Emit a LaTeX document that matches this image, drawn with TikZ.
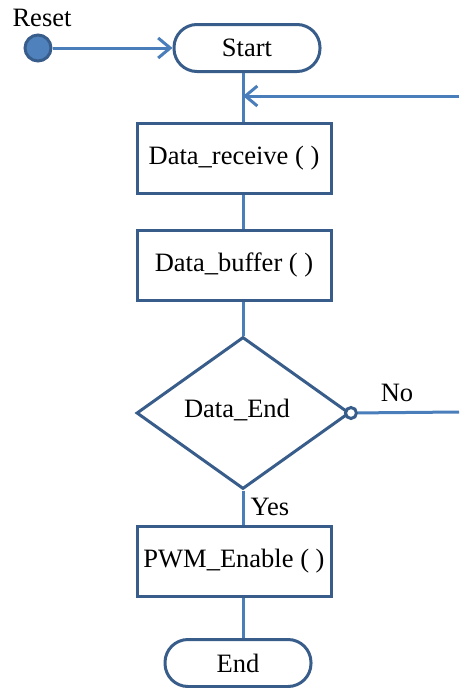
\documentclass[tikz,border=0pt]{standalone}
\usepackage{fontspec}
\setmainfont{Liberation Serif}
\usetikzlibrary{shapes.geometric,arrows.meta}
\definecolor{flowline}{HTML}{4A7EBB}
\definecolor{flowedge}{HTML}{385D8A}
\definecolor{flowfill}{HTML}{4F81BD}
\tikzset{every node/.style={font=\fontsize{26.5}{31}\selectfont},
	procbox/.style={draw=flowedge,line width=3pt,minimum width=194pt,minimum height=70pt},
	terminal/.style={draw=flowedge,line width=3pt,rounded corners=23pt,minimum width=146pt,minimum height=47pt},
	decision/.style={draw=flowedge,line width=3pt,diamond,inner sep=0pt,minimum width=213pt,minimum height=152pt},
	flow/.style={draw=flowline,line width=3pt},
	into/.style={-{Straight Barb[length=12pt,width=20pt,line width=3pt]}}}

\begin{document}
\begin{tikzpicture}[x=1pt,y=-1pt]
	\useasboundingbox (0,0) rectangle (459,688);
	\node[circle,fill=flowfill,draw=flowedge,line width=3pt,minimum size=26pt,inner sep=0pt] (reset) at (38,48) {};
	\node (resetlabel) at (42,18) {Reset};
	\node[terminal] (start) at (247,48) {Start};
	\node[procbox] (recv) at (234,158) {Data\_receive ( )};
	\node[procbox] (buf) at (234,265) {Data\_buffer ( )};
	\node[decision] (dia) at (243,413) {};
	\node (dialabel) at (237,410) {Data\_End};
	\node[procbox] (pwm) at (234,561) {PWM\_Enable ( )};
	\node[terminal] (end) at (238,663) {End};
	\node (yes) at (270,507) {Yes};
	\node (no) at (397,393) {No};
	\coordinate (loopin) at (459,96);
	\coordinate (loopout) at (459,412);
	% connectors
	\draw[flow,into] (reset) -- (start);
	\draw[flow] (start.south -| dia.north) -- (recv.north -| dia.north);
	\draw[flow,into] (loopin) -- (loopin -| dia.north);
	\draw[flow] (recv.south -| dia.north) -- (buf.north -| dia.north);
	\draw[flow] (buf.south -| dia.north) -- (dia.north);
	\draw[flow] (dia.south) -- (pwm.north -| dia.south);
	\draw[flow] (pwm.south -| dia.south) -- (end.north -| dia.south);
	\node[circle,draw=flowedge,fill=white,line width=3pt,minimum size=11pt,inner sep=0pt] (nodot) at (dia.east) {};
	\draw[flow] (nodot) -- (loopout);
\end{tikzpicture}
\end{document}
